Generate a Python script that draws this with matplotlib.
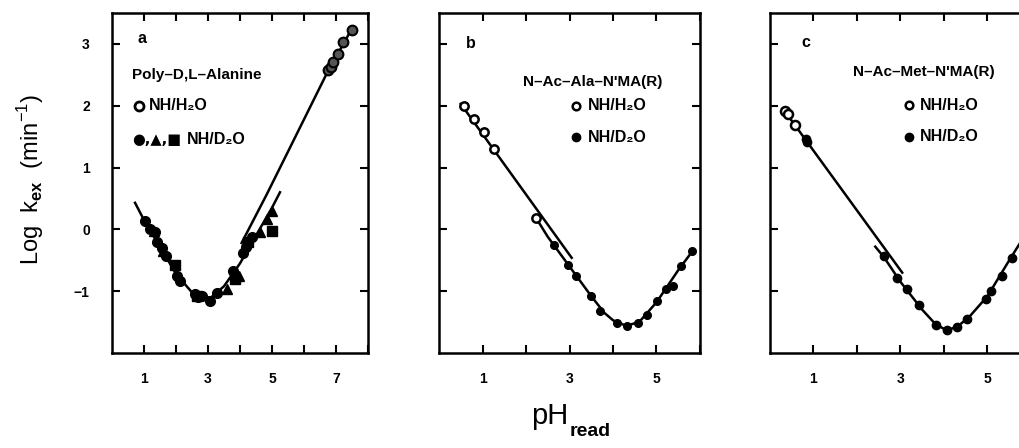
import matplotlib
matplotlib.use("Agg")
import matplotlib.pyplot as plt
from matplotlib.ticker import FixedLocator, FixedFormatter

plt.rcParams['font.family'] = ['Liberation Sans', 'DejaVu Sans']
plt.rcParams['mathtext.fontset'] = 'custom'
plt.rcParams['mathtext.rm'] = 'Liberation Sans'
plt.rcParams['mathtext.bf'] = 'Liberation Sans:bold'

# ---- panel a: Poly-D,L-Alanine ----
a_h2o_ph = [6.76, 6.85, 6.92, 7.07, 7.23, 7.49]
a_h2o_logk = [2.57, 2.62, 2.70, 2.84, 3.03, 3.23]
a_circ_ph = [1.03, 1.19, 1.34, 1.40, 1.55, 1.70, 2.02, 2.12, 2.59, 2.70, 2.80,
             3.06, 3.27, 3.79, 4.10, 4.20, 4.37]
a_circ_logk = [0.13, 0.00, -0.05, -0.21, -0.30, -0.43, -0.76, -0.84, -1.05, -1.10,
               -1.08, -1.16, -1.03, -0.67, -0.38, -0.28, -0.13]
a_tri_ph = [1.30, 1.60, 3.58, 3.98, 4.63, 4.83, 4.99]
a_tri_logk = [-0.02, -0.35, -0.96, -0.75, -0.05, 0.16, 0.29]
a_sq_ph = [1.97, 2.65, 3.85, 4.25, 4.99]
a_sq_logk = [-0.57, -1.08, -0.81, -0.20, -0.03]
a_fit_ph = [0.72, 1.0, 1.5, 2.0, 2.5, 2.8, 3.1, 3.5, 4.0, 4.5, 5.0, 5.25]
a_fit_logk = [0.43, 0.15, -0.28, -0.72, -1.02, -1.10, -1.10, -0.92, -0.55, -0.10, 0.35, 0.60]
a_h2o_fit_ph = [4.05, 4.83, 5.56, 6.71, 7.50]
a_h2o_fit_logk = [-0.22, 0.56, 1.32, 2.52, 3.25]

# ---- panel b: N-Ac-Ala-N'MA(R) ----
b_h2o_ph = [0.57, 0.80, 1.03, 1.26, 2.23]
b_h2o_logk = [2.00, 1.78, 1.57, 1.30, 0.19]
b_d2o_ph = [2.64, 2.97, 3.16, 3.50, 3.70, 4.09, 4.33, 4.58, 4.79, 5.02, 5.22, 5.37, 5.57, 5.82]
b_d2o_logk = [-0.26, -0.57, -0.76, -1.08, -1.32, -1.51, -1.57, -1.52, -1.39, -1.16,
              -0.97, -0.92, -0.60, -0.35]
b_line_ph = [0.50, 3.05]
b_line_logk = [2.03, -0.46]
b_fit_ph = [2.20, 2.5, 3.0, 3.5, 3.8, 4.0, 4.3, 4.6, 5.0, 5.5, 5.85]
b_fit_logk = [0.22, -0.12, -0.60, -1.08, -1.35, -1.47, -1.56, -1.50, -1.18, -0.66, -0.33]

# ---- panel c: N-Ac-Met-N'MA(R) ----
c_h2o_ph = [0.35, 0.42, 0.58]
c_h2o_logk = [1.92, 1.86, 1.69]
c_d2o_ph = [0.83, 0.86, 2.62, 2.93, 3.14, 3.43, 3.81, 4.06, 4.30, 4.53, 4.97, 5.08,
            5.33, 5.57]
c_d2o_logk = [1.46, 1.41, -0.43, -0.78, -0.96, -1.23, -1.54, -1.62, -1.58, -1.45,
              -1.12, -0.99, -0.75, -0.46]
c_line_ph = [0.30, 3.04]
c_line_logk = [1.95, -0.70]
c_fit_ph = [2.42, 2.62, 3.0, 3.5, 3.8, 4.05, 4.3, 4.6, 5.0, 5.5, 5.9]
c_fit_logk = [-0.28, -0.45, -0.85, -1.30, -1.53, -1.63, -1.58, -1.40, -1.08, -0.50, -0.05]

W, H = 1020, 448
fig = plt.figure(figsize=(W / 100, H / 100), dpi=100)

boxes = [(112, 256), (439, 261), (770, 261)]
xmaxs = [8, 6, 6]
axes = []
for (left, width), xmax in zip(boxes, xmaxs):
    ax = fig.add_axes([left / W, 1 - 353 / H, width / W, 340 / H])
    ax.set_xlim(0, xmax)
    ax.set_ylim(-2, 3.5)
    xt = list(range(1, xmax + 1))
    ax.xaxis.set_major_locator(FixedLocator(xt))
    ax.xaxis.set_major_formatter(FixedFormatter([str(t) if t % 2 else '' for t in xt]))
    ax.yaxis.set_major_locator(FixedLocator([-1, 0, 1, 2, 3]))
    ax.tick_params(direction='in', length=6, width=1.5, top=True, right=True,
                   labelsize=10, pad=14)
    ax.tick_params(axis='y', pad=16)
    for s in ax.spines.values():
        s.set_linewidth(1.8)
    for lab in ax.get_xticklabels() + ax.get_yticklabels():
        lab.set_fontweight('bold')
    axes.append(ax)

axa, axb, axc = axes
axb.tick_params(labelleft=False)
axc.tick_params(labelleft=False)
axa.set_yticklabels(['\u22121', '0', '1', '2', '3'], fontweight='bold')

lk = dict(color='black', lw=1.8)
ms = dict(color='black', ls='none')
fs = 11

# panel a
axa.plot(a_fit_ph, a_fit_logk, **lk)
axa.plot(a_h2o_fit_ph, a_h2o_fit_logk, **lk)
axa.plot(a_circ_ph, a_circ_logk, marker='o', ms=7, **ms)
axa.plot(a_tri_ph, a_tri_logk, marker='^', ms=7, **ms)
axa.plot(a_sq_ph, a_sq_logk, marker='s', ms=6.5, **ms)
axa.plot(a_h2o_ph, a_h2o_logk, marker='o', ms=7, mfc='#555555', mec='black', mew=1.5, ls='none')
axa.text(0.8, 3.08, 'a', fontsize=11.5, fontweight='bold', va='center')
axa.text(0.62, 2.5, 'Poly\u2013D,L\u2013Alanine', fontsize=fs, fontweight='bold', va='center')
axa.plot([0.84], [2.0], marker='o', ms=6.5, mfc='white', mec='black', mew=2, ls='none')
axa.text(1.14, 2.0, 'NH/H\u2082O', fontsize=fs + 0.5, fontweight='bold', va='center')
axa.text(0.64, 1.46, '\u25cf,\u25b2,\u25a0', fontsize=10.5, fontweight='bold', va='center',
         family=['DejaVu Sans'])
axa.text(2.35, 1.46, 'NH/D\u2082O', fontsize=fs + 0.5, fontweight='bold', va='center')

# panel b
axb.plot(b_line_ph, b_line_logk, **lk)
axb.plot(b_fit_ph, b_fit_logk, **lk)
axb.plot(b_h2o_ph, b_h2o_logk, marker='o', ms=6, mfc='white', mec='black', mew=1.8, ls='none')
axb.plot(b_d2o_ph, b_d2o_logk, marker='o', ms=5.5, **ms)
axb.text(0.62, 3.0, 'b', fontsize=11.5, fontweight='bold', va='center')
axb.text(1.93, 2.38, "N\u2013Ac\u2013Ala\u2013N'MA(R)", fontsize=fs, fontweight='bold', va='center')
axb.plot([3.16], [2.0], marker='o', ms=5.5, mfc='white', mec='black', mew=1.8, ls='none')
axb.text(3.42, 2.0, 'NH/H\u2082O', fontsize=fs + 0.5, fontweight='bold', va='center')
axb.plot([3.16], [1.49], marker='o', ms=6, **ms)
axb.text(3.42, 1.49, 'NH/D\u2082O', fontsize=fs + 0.5, fontweight='bold', va='center')

# panel c
axc.plot(c_line_ph, c_line_logk, **lk)
axc.plot(c_fit_ph, c_fit_logk, **lk)
axc.plot(c_h2o_ph, c_h2o_logk, marker='o', ms=6.5, mfc='white', mec='black', mew=1.8, ls='none')
axc.plot(c_d2o_ph, c_d2o_logk, marker='o', ms=6, **ms)
axc.text(0.72, 3.03, 'c', fontsize=11.5, fontweight='bold', va='center')
axc.text(1.9, 2.54, "N\u2013Ac\u2013Met\u2013N'MA(R)", fontsize=fs, fontweight='bold', va='center')
axc.plot([3.19], [2.01], marker='o', ms=5.5, mfc='white', mec='black', mew=1.8, ls='none')
axc.text(3.45, 2.01, 'NH/H\u2082O', fontsize=fs + 0.5, fontweight='bold', va='center')
axc.plot([3.19], [1.5], marker='o', ms=6, **ms)
axc.text(3.45, 1.5, 'NH/D\u2082O', fontsize=fs + 0.5, fontweight='bold', va='center')

# shared axis labels
fig.text(0.03, 0.6, r'Log  k$_{\mathbf{ex}}$  (min$^{-1}$)', rotation=90,
         fontsize=17, ha='center', va='center')
fig.text(0.557, 1 - 416 / H, 'pH', fontsize=21, ha='right', va='center')
fig.text(0.558, 1 - 431 / H, 'read', fontsize=14, fontweight='bold', ha='left', va='center')

fig.savefig('out.png', dpi=100)
